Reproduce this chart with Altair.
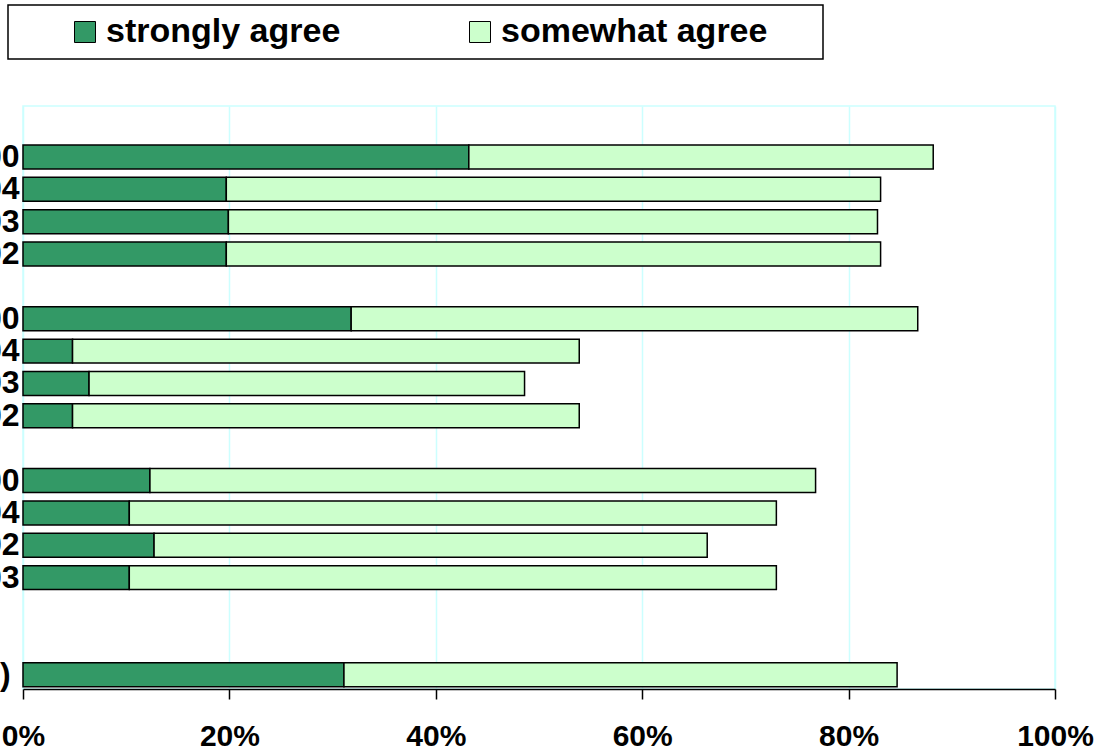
import altair as alt
import pandas as pd

# Row keys: "label|group"; empty labels are spacer rows between groups
rows = [
    "2000|A", "2004|A", "2003|A", "2002|A",
    "|gap1",
    "2000|B", "2004|B", "2003|B", "2002|B",
    "|gap2",
    "2000|C", "2004|C", "2002|C", "2003|C",
    "|gap3", "|gap4",
    "Total (2000)\u00a0\u200b|D",
]

bar_rows = [r for r in rows if not r.startswith("|")]

strongly = [43.2, 19.7, 19.9, 19.7,
            31.8, 4.8, 6.4, 4.8,
            12.3, 10.3, 12.7, 10.3,
            31.1]
somewhat = [45.0, 63.4, 62.9, 63.4,
            54.9, 49.1, 42.2, 49.1,
            64.5, 62.7, 53.6, 62.7,
            53.6]

series = ["strongly agree", "somewhat agree"]
colors = ["#339966", "#CCFFCC"]
x_ticks = [0, 20, 40, 60, 80, 100]

records = []
for row, s, w in zip(bar_rows, strongly, somewhat):
    records.append({"row": row, "series": series[0], "k": 0, "value": s})
    records.append({"row": row, "series": series[1], "k": 1, "value": w})
df = pd.DataFrame(records)

FONT = "Liberation Sans"
# trailing blank space inside the legend frame after the last entry
legend_tail = "\u00a0" * 4 + "\u2009\u200b"

chart = (
    alt.Chart(df)
    .mark_bar(stroke="black", strokeWidth=1.5)
    .encode(
        x=alt.X(
            "value:Q",
            stack="zero",
            scale=alt.Scale(domain=[0, 100], nice=False, zero=True),
            axis=alt.Axis(
                values=x_ticks,
                labelExpr="datum.value + '%'",
                title=None,
                grid=True,
                gridColor="#CCFFFF",
                gridWidth=1.5,
                domainColor="black",
                domainWidth=1.5,
                tickColor="black",
                tickWidth=1.5,
                tickSize=10,
                labelPadding=22,
                labelFont=FONT,
                labelFontSize=30,
                labelFontWeight="bold",
                labelColor="black",
                labelFlush=False,
                labelOverlap=False,
            ),
        ),
        y=alt.Y(
            "row:N",
            sort=rows,
            scale=alt.Scale(
                domain=rows,
                paddingInner=0.26,
                paddingOuter=0.638,
                align=0.944,
            ),
            axis=alt.Axis(
                title=None,
                labelExpr="split(datum.value, '|')[0]",
                ticks=False,
                domain=False,
                grid=False,
                labelPadding=4,
                labelFont=FONT,
                labelFontSize=32,
                labelFontWeight="bold",
                labelColor="black",
                labelLimit=0,
            ),
        ),
        color=alt.Color(
            "series:N",
            scale=alt.Scale(domain=series, range=colors),
            legend=alt.Legend(
                title=None,
                orient="none",
                legendX=-15,
                legendY=-101,
                direction="horizontal",
                symbolType="square",
                symbolSize=441,
                symbolStrokeColor="black",
                symbolStrokeWidth=1,
                symbolOffset=50,
                labelOffset=4,
                columnPadding=72,
                labelFont=FONT,
                labelFontSize=34,
                labelFontWeight="bold",
                labelColor="black",
                labelLimit=0,
                labelExpr="datum.label == 'somewhat agree' ? datum.label + '" + legend_tail + "' : datum.label",
                padding=10,
                fillColor="white",
                strokeColor="black",
            ),
        ),
        order=alt.Order("k:Q", sort="ascending"),
    )
    .properties(
        width=1032,
        height=583,
        autosize=alt.AutoSizeParams(type="none"),
        padding={"left": 23, "top": 106, "right": 61, "bottom": 61},
        background="white",
    )
    .configure_view(stroke="#CCFFFF", strokeWidth=1.5)
    .configure_legend(strokeWidth=1.5)
)

chart.save("out.html", embed_options={"renderer": "svg", "actions": False})
